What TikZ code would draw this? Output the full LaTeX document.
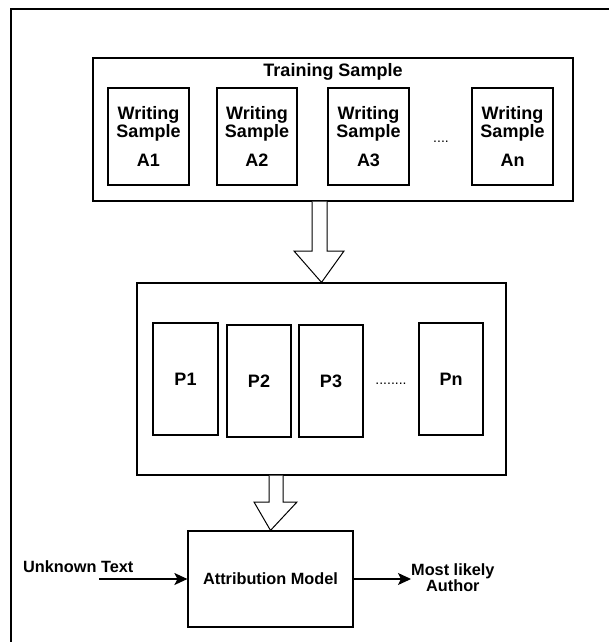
\documentclass[tikz,border=0pt]{standalone}
\usepackage{fontspec}
\setmainfont{Liberation Sans}
\usetikzlibrary{arrows.meta}
\begin{document}
\begin{tikzpicture}[x=1pt,y=-1pt,
  box/.style={draw,line width=1.2pt},
  lbl/.style={font=\bfseries\fontsize{18}{18}\selectfont,align=center,inner sep=0pt},
  lbls/.style={font=\bfseries\fontsize{16.3}{16}\selectfont,align=center,inner sep=0pt},
  hollow/.style={draw,line width=1pt,fill=white},
  conn/.style={line width=1.1pt,-{Stealth[length=13pt,width=12pt,inset=3pt]}}]
\useasboundingbox (0,0) rectangle (609,642);
\draw[line width=1.3pt] (11,9) rectangle (615,650);
% training sample
\node[box,minimum width=480pt,minimum height=143pt,inner sep=0pt] (train) at (333,129.5) {};
\node[lbl] (ttitle) at (333,72) {Training Sample};
\node[box,minimum width=81pt,minimum height=97pt,lbl] (a1) at (148.5,136.5) {Writing\\Sample\\[11pt]A1};
\node[box,minimum width=80pt,minimum height=97pt,lbl] (a2) at (257,136.5) {Writing\\Sample\\[11pt]A2};
\node[box,minimum width=81pt,minimum height=97pt,lbl] (a3) at (368.5,136.5) {Writing\\Sample\\[11pt]A3};
\node[font=\fontsize{14}{14}\selectfont,inner sep=0pt] (dots1) at (441,142) {....};
\node[box,minimum width=81pt,minimum height=97pt,lbl] (an) at (512.5,136.5) {Writing\\Sample\\[11pt]An};
% middle box
\node[box,minimum width=369pt,minimum height=192pt,inner sep=0pt] (mid) at (321.5,379) {};
\node[box,minimum width=65pt,minimum height=112pt,lbl] (p1) at (185.5,379) {P1};
\node[box,minimum width=64pt,minimum height=112pt,lbl] (p2) at (259,381) {P2};
\node[box,minimum width=64pt,minimum height=112pt,lbl] (p3) at (331,381) {P3};
\node[font=\fontsize{14}{14}\selectfont,inner sep=0pt] (dots2) at (391,384) {........};
\node[box,minimum width=64pt,minimum height=112pt,lbl] (pn) at (451,379) {Pn};
% attribution model
\node[box,minimum width=165pt,minimum height=96pt,lbls] (am) at (270.5,579) {Attribution Model};
\node[lbls,anchor=west] (unk) at (23,567) {Unknown Text};
\coordinate (unkstart) at (99,579);
\node[lbls,anchor=west] (out) at (411,578) {Most likely\\Author};
% hollow arrows
\draw[hollow] (train.south -| 312,0) -- (312,251) -- (294,251) -- (mid.north) -- (344,251) -- (327,251) -- (train.south -| 327,0);
\draw[hollow] (mid.south -| 269,0) -- (269,502) -- (254,502) -- (am.north) -- (297,502) -- (283,502) -- (mid.south -| 283,0);
% connectors
\draw[conn] (unkstart) -- (am.west);
\draw[conn] (am.east) -- (am.east -| out.west);
\end{tikzpicture}
\end{document}
